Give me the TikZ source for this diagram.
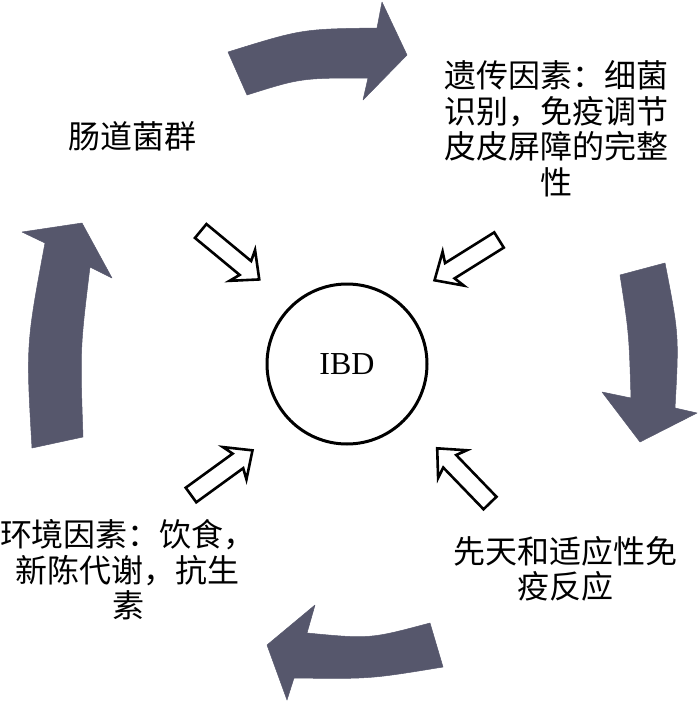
\documentclass[tikz,border=0pt]{standalone}
\usepackage{fontspec}
\setmainfont{Liberation Serif}
\newfontfamily\cjk{Noto Sans CJK SC}
\definecolor{arrowgray}{RGB}{86,87,108}
\tikzset{
  lbl/.style={font=\cjk\fontsize{32}{35.5}\selectfont, align=center, inner sep=0pt},
  bigarrow/.style={fill=arrowgray, draw=arrowgray, line width=0.5pt, line join=round},
  hollowarrow/.pic={
    \draw[line width=2.6pt, fill=white, line join=miter]
      (0,-9) -- (58,-9) -- (54,-20) -- (76,0) -- (54,20) -- (58,9) -- (0,9) -- cycle;
  }
}
\begin{document}
\begin{tikzpicture}[x=1pt,y=-1pt]
\useasboundingbox (0,0) rectangle (700,704);

% central circle
\node[draw, circle, line width=3pt, minimum size=160pt, inner sep=0pt,
      font=\fontsize{32}{36}\selectfont] (ibd) at (347,364) {IBD};

% labels
\node[lbl] (gut) at (132,136) {肠道菌群};
\node[lbl] (gen) at (556,129) {遗传因素：细菌\\识别，免疫调节\\皮皮屏障的完整\\性};
\node[lbl] (env) at (128,570) {环境因素：饮食，\\新陈代谢，抗生\\素};
\node[lbl] (inn) at (565,569) {先天和适应性免\\疫反应};

% big curved arrows
\fill[bigarrow] (228,52) -- (247,95) .. controls (301,78) .. (368,78) -- (363,100)
  -- (407,55) -- (382,2) -- (377,28) .. controls (302,29) .. (228,52) -- cycle;
\fill[bigarrow] (620,275) -- (665,263) .. controls (679,335) .. (675,408) -- (697,413)
  -- (640,442) -- (602,392) -- (631,398) .. controls (629,333) .. (620,275) -- cycle;
\fill[bigarrow] (430,623) .. controls (370,639) .. (307,633) -- (315,605) -- (267,645)
  -- (287,700) -- (294,678) .. controls (370,679) .. (443,667) -- cycle;
\fill[bigarrow] (32,448) -- (83,437) .. controls (80,349) .. (90,267) -- (112,278)
  -- (82,223) -- (22,232) -- (45,243) .. controls (26,345) .. (32,448) -- cycle;

% hollow arrows pointing to IBD
\pic[rotate=-39.6] at (200.7,231) {hollowarrow};
\pic[rotate=-148] at (499,240) {hollowarrow};
\pic[rotate=36] at (191,495) {hollowarrow};
\pic[rotate=134] at (490,503) {hollowarrow};
\end{tikzpicture}
\end{document}
